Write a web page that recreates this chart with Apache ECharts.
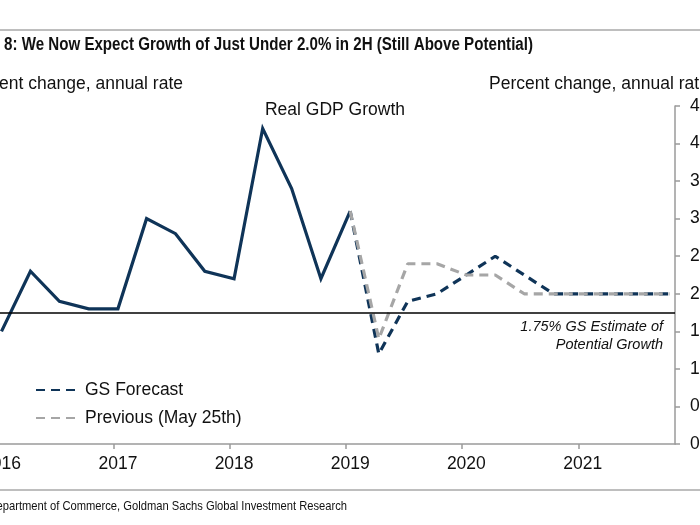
<!DOCTYPE html>
<html>
<head>
<meta charset="utf-8">
<script src="https://cdn.jsdelivr.net/npm/echarts@6/dist/echarts.min.js"></script>
<style>html,body{margin:0;padding:0;background:#fff}#c{width:700px;height:525px}</style>
</head>
<body>
<div id="c"></div>
<script>
// Quarterly observation dates
const actualDates = ['2016-01-15','2016-04-15','2016-07-15','2016-10-15','2017-01-15','2017-04-15','2017-07-15','2017-10-15','2018-01-15','2018-04-15','2018-07-15','2018-10-15','2019-01-15'];
const actualValues = [1.5, 2.3, 1.9, 1.8, 1.8, 3.0, 2.8, 2.3, 2.2, 4.2, 3.4, 2.2, 3.1];
const forecastDates = ['2019-01-15','2019-04-15','2019-07-15','2019-10-15','2020-01-15','2020-04-15','2020-07-15','2020-10-15','2021-01-15','2021-04-15','2021-07-15','2021-10-15'];
const gsForecast = [3.1, 1.2, 1.9, 2.0, 2.25, 2.5, 2.25, 2.0, 2.0, 2.0, 2.0, 2.0];
const previousForecast = [3.1, 1.4, 2.4, 2.4, 2.25, 2.25, 2.0, 2.0, 2.0, 2.0, 2.0, 2.0];
const potentialGrowth = 1.75;
const yTickLabels = ['0.0','0.5','1.0','1.5','2.0','2.5','3.0','3.5','4.0','4.5'];
const xMin = '2015-07-01';
const xMax = '2021-11-01';

const NAVY = '#0f3458';
const GRAY = '#a6a6a6';
const AX = '#9a9a9a';
const FONT = '"Liberation Sans", Arial, sans-serif';

const pair = (d, v) => d.map((x, i) => [x, v[i]]);

const chart = echarts.init(document.getElementById('c'), null, {renderer: 'canvas'});
chart.setOption({
  animation: false,
  backgroundColor: '#fff',
  textStyle: {fontFamily: FONT},
  grid: {left: -61.5, right: 25, top: 106, bottom: 81, containLabel: false, outerBoundsMode: 'none'},
  legend: {
    orient: 'vertical', left: 35, top: 381, padding: 0,
    itemWidth: 43, itemHeight: 14, itemGap: 10,
    data: ['GS Forecast', 'Previous (May 25th)'],
    itemStyle: {opacity: 0},
    textStyle: {fontSize: 17.5, color: '#111', fontFamily: FONT, padding: [0, 0, 0, 1]}
  },
  xAxis: {
    type: 'time', min: xMin, max: xMax,
    minInterval: 365 * 24 * 3600 * 1000,
    splitLine: {show: false},
    axisLine: {lineStyle: {color: AX, width: 1.5}},
    axisTick: {show: true, length: 5, inside: false, lineStyle: {color: AX, width: 1.5}},
    axisLabel: {
      color: '#111', fontSize: 17.5, margin: 11, fontFamily: FONT,
      padding: [0, 0, 0, 9],
      showMinLabel: false, showMaxLabel: false,
      formatter: v => String(new Date(v).getFullYear())
    }
  },
  yAxis: {
    type: 'value', position: 'right', min: 0, max: 4.5, interval: 0.5,
    splitLine: {show: false},
    axisLine: {show: true, lineStyle: {color: AX, width: 1.5}},
    axisTick: {show: true, length: 5, lineStyle: {color: AX, width: 1.5}},
    axisLabel: {color: '#111', fontSize: 17.5, margin: 15, fontFamily: FONT,
      formatter: (v) => yTickLabels[Math.round(v / 0.5)]}
  },
  series: [
    {
      name: 'Real GDP', type: 'line', data: pair(actualDates, actualValues),
      showSymbol: false, symbol: 'none',
      lineStyle: {color: NAVY, width: 3.2, join: 'miter'},
      z: 3,
      markLine: {
        silent: true, symbol: 'none', label: {show: false},
        lineStyle: {color: '#000', width: 1.5, type: 'solid'},
        data: [{yAxis: potentialGrowth}]
      }
    },
    {
      name: 'GS Forecast', type: 'line', data: pair(forecastDates, gsForecast),
      showSymbol: false, symbol: 'none',
      itemStyle: {color: NAVY},
      lineStyle: {color: NAVY, width: 3.2, type: [9, 6]},
      z: 3
    },
    {
      name: 'Previous (May 25th)', type: 'line', data: pair(forecastDates, previousForecast),
      showSymbol: false, symbol: 'none',
      itemStyle: {color: GRAY},
      lineStyle: {color: GRAY, width: 3.2, type: [9, 6]},
      z: 4
    }
  ],
  graphic: [
    {type: 'line', shape: {x1: 0, y1: 30, x2: 700, y2: 30}, style: {stroke: '#a8a8a8', lineWidth: 1.5}},
    {type: 'line', shape: {x1: 0, y1: 490, x2: 700, y2: 490}, style: {stroke: '#a8a8a8', lineWidth: 1.5}},
    {type: 'text', x: 533, y: 45, scaleX: 0.84, style: {text: 'Exhibit 8: We Now Expect Growth of Just Under 2.0% in 2H (Still Above Potential)', font: 'bold 18px ' + FONT, fill: '#111', textAlign: 'right', textVerticalAlign: 'middle'}},
    {type: 'text', x: 183, y: 84, style: {text: 'Percent change, annual rate', font: '17.5px ' + FONT, fill: '#111', textAlign: 'right', textVerticalAlign: 'middle'}},
    {type: 'text', x: 489, y: 84, style: {text: 'Percent change, annual rate', font: '17.5px ' + FONT, fill: '#111', textAlign: 'left', textVerticalAlign: 'middle'}},
    {type: 'text', x: 335, y: 110, style: {text: 'Real GDP Growth', font: '17.5px ' + FONT, fill: '#111', textAlign: 'center', textVerticalAlign: 'middle'}},
    {type: 'text', x: 663, y: 327, style: {text: '1.75% GS Estimate of', font: 'italic 14.5px ' + FONT, fill: '#111', textAlign: 'right', textVerticalAlign: 'middle'}},
    {type: 'text', x: 663, y: 345, style: {text: 'Potential Growth', font: 'italic 14.5px ' + FONT, fill: '#111', textAlign: 'right', textVerticalAlign: 'middle'}},
    {type: 'text', x: 347, y: 506, scaleX: 0.86, style: {text: 'Source: Department of Commerce, Goldman Sachs Global Investment Research', font: '13px ' + FONT, fill: '#111', textAlign: 'right', textVerticalAlign: 'middle'}}
  ]
});
</script>
</body>
</html>
